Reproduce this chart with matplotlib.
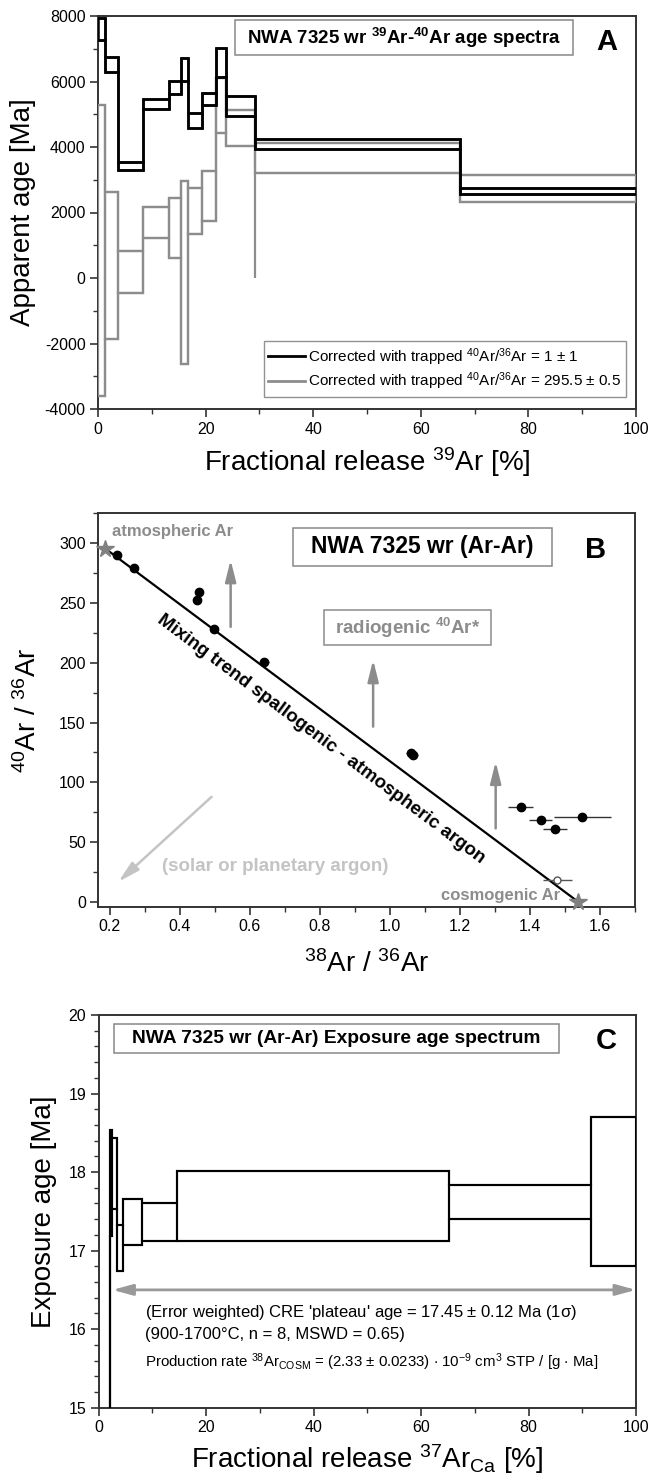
import matplotlib
matplotlib.use('Agg')
import matplotlib.pyplot as plt
import numpy as np
from matplotlib.patches import Rectangle
from matplotlib.lines import Line2D
from matplotlib.ticker import MultipleLocator, FormatStrFormatter

plt.rcParams['font.family'] = ['Liberation Sans', 'DejaVu Sans']
plt.rcParams['mathtext.fontset'] = 'custom'
plt.rcParams['mathtext.rm'] = 'Liberation Sans'
plt.rcParams['mathtext.it'] = 'Liberation Sans:italic'
plt.rcParams['mathtext.bf'] = 'Liberation Sans:bold'
plt.rcParams['mathtext.default'] = 'regular'
plt.rcParams['axes.unicode_minus'] = False

# ---------------- Panel A data: 39Ar-40Ar age spectra ----------------
a_edges = [0, 1.3, 3.7, 8.4, 13.2, 15.4, 16.8, 19.4, 21.9, 23.8, 29.1, 67.2, 100]
a_black_hi = [7930, 6756, 3532, 5465, 6014, 6726, 5028, 5639, 7013, 5566, 4235, 2757]
a_black_lo = [7266, 6298, 3297, 5160, 5608, 6014, 4570, 5282, 6127, 4955, 3929, 2565]
a_gray_hi = [5282, 2616, 824, 2177, 2452, 2961, 2757, 3276, 6115, 5129, 4131, 3145]
a_gray_lo = [-3593, -1872, -467, 1212, 620, -2626, 1334, 1740, 4418, 4030, 3196, 2311]
a_gray_tail_low = 0
a_labels = [r'Corrected with trapped $^{40}$Ar/$^{36}$Ar = 1 $\pm$ 1',
            r'Corrected with trapped $^{40}$Ar/$^{36}$Ar = 295.5 $\pm$ 0.5']

# ---------------- Panel B data: three-isotope plot ----------------
b_x = [0.221, 0.269, 0.448, 0.455, 0.498, 0.641, 1.060, 1.066, 1.373, 1.431, 1.472, 1.550]
b_y = [289.8, 278.9, 252.7, 259.6, 228.4, 201.0, 124.5, 122.5, 79.0, 68.4, 60.6, 70.7]
b_xerr = [0.005, 0.005, 0.005, 0.005, 0.008, 0.013, 0.015, 0.015, 0.035, 0.033, 0.034, 0.082]
b_open_x = [1.478]
b_open_y = [18.7]
b_open_xerr = [0.042]
b_atm = (0.187, 295.5)
b_cosmo = (1.538, 0.0)

# ---------------- Panel C data: exposure age spectrum ----------------
c_edges = [2.15, 2.17, 2.46, 3.33, 4.56, 8.08, 14.6, 65.2, 91.6, 100]
c_lo = [14.0, 17.18, 17.53, 16.74, 17.07, 17.12, 17.12, 17.40, 16.81]
c_hi = [17.18, 18.54, 18.43, 17.33, 17.66, 17.61, 18.01, 17.83, 18.70]
c_plateau_x = (2.55, 100)
c_plateau_y = 16.5

GRAY = '#8c8c8c'
LGRAY = '#c4c4c4'
SPINE = '#333333'

W, H = 651, 1475
fig = plt.figure(figsize=(W / 100, H / 100), dpi=100)


def axes_px(l, r, t, b):
    return fig.add_axes([l / W, 1 - b / H, (r - l) / W, (b - t) / H])


def style(ax):
    for s in ax.spines.values():
        s.set_linewidth(1.4)
        s.set_color(SPINE)
    ax.tick_params(which='major', direction='out', length=6, width=1.2,
                   labelsize=11.5, color=SPINE, pad=3)
    ax.tick_params(which='minor', direction='out', length=3.5, width=1.0, color=SPINE)


def title_box(ax, x0, x1, y0, y1, text, size, color='black', ec='#888888'):
    ax.add_patch(Rectangle((x0, y0), x1 - x0, y1 - y0, transform=ax.transAxes,
                           facecolor='white', edgecolor=ec, lw=1.1, zorder=5))
    ax.text((x0 + x1) / 2, (y0 + y1) / 2, text, transform=ax.transAxes,
            ha='center', va='center', fontsize=size, fontweight='bold',
            color=color, zorder=6)


def spectrum(ax, edges, lo, hi, color, lw):
    edges = np.asarray(edges, dtype=float)
    lo = np.asarray(lo, dtype=float)
    hi = np.asarray(hi, dtype=float)
    # each heating step as a box ...
    ax.bar(edges[:-1], hi - lo, width=np.diff(edges), bottom=lo, align='edge',
           fill=False, edgecolor=color, linewidth=lw, zorder=3)
    # ... joined by step lines of the upper and lower bounds
    ax.stairs(hi, edges, baseline=None, color=color, lw=lw, zorder=3)
    ax.stairs(lo, edges, baseline=None, color=color, lw=lw, zorder=3)


# ======================= Panel A =======================
axA = axes_px(98, 636, 16, 409)
style(axA)
spectrum(axA, a_edges, a_gray_lo, a_gray_hi, GRAY, 1.6)
axA.vlines(a_edges[10], a_gray_tail_low, a_gray_lo[10], color=GRAY, lw=1.6)
spectrum(axA, a_edges, a_black_lo, a_black_hi, 'black', 1.8)
axA.set_xlim(0, 100)
axA.set_ylim(-4000, 8000)
axA.xaxis.set_major_locator(MultipleLocator(20))
axA.xaxis.set_minor_locator(MultipleLocator(10))
axA.yaxis.set_major_locator(MultipleLocator(2000))
axA.yaxis.set_minor_locator(MultipleLocator(1000))
axA.set_xlabel(r'Fractional release $^{39}$Ar [%]', fontsize=20)
axA.set_ylabel('Apparent age [Ma]', fontsize=20)
axA.yaxis.set_label_coords(-0.115, 0.5)
axA.xaxis.set_label_coords(0.5, -0.092)
title_box(axA, 0.2546, 0.8835, 0.9008, 0.9898,
          r'NWA 7325 wr $^{\mathbf{39}}$Ar-$^{\mathbf{40}}$Ar age spectra', 13.5)
axA.text(0.945, 0.935, 'A', transform=axA.transAxes, ha='center', va='center',
         fontsize=21, fontweight='bold')
handles = [Line2D([], [], color='black', lw=2), Line2D([], [], color=GRAY, lw=2)]
leg = axA.legend(handles, a_labels, loc='lower right', bbox_to_anchor=(0.981, 0.031),
                 borderaxespad=0, fontsize=11, frameon=True, fancybox=False,
                 edgecolor='#777777', handlelength=2.4, handletextpad=0.2,
                 labelspacing=0.2, borderpad=0.3)
leg.get_frame().set_linewidth(1.0)
leg.set_zorder(6)

# ======================= Panel B =======================
axB = axes_px(98.3, 635, 513.3, 906.7)
style(axB)
axB.set_xlim(0.167, 1.70)
axB.set_ylim(-4, 325)
axB.plot([b_atm[0], b_cosmo[0]], [b_atm[1], b_cosmo[1]], color='black', lw=1.6, zorder=3)
axB.errorbar(b_x, b_y, xerr=b_xerr, fmt='o', color='black', ecolor='#333333',
             elinewidth=1.0, ms=6, capsize=0, zorder=4)
axB.errorbar(b_open_x, b_open_y, xerr=b_open_xerr, fmt='o', mfc='white', mec='#555555',
             ecolor='#555555', elinewidth=1.0, ms=5, capsize=0, zorder=4)
axB.plot([b_atm[0], b_cosmo[0]], [b_atm[1], b_cosmo[1]], ls='none', marker='*',
         ms=13, color='#808080', zorder=5, clip_on=False)
axB.xaxis.set_major_locator(MultipleLocator(0.2))
axB.xaxis.set_minor_locator(MultipleLocator(0.1))
axB.yaxis.set_major_locator(MultipleLocator(50))
axB.yaxis.set_minor_locator(MultipleLocator(25))
axB.xaxis.set_major_formatter(FormatStrFormatter('%.1f'))
axB.set_xlabel(r'$^{38}$Ar / $^{36}$Ar', fontsize=20)
axB.set_ylabel(r'$^{40}$Ar / $^{36}$Ar', fontsize=20)
axB.yaxis.set_label_coords(-0.105, 0.5)
axB.xaxis.set_label_coords(0.5, -0.11)
title_box(axB, 0.3636, 0.845, 0.866, 0.963, 'NWA 7325 wr (Ar-Ar)', 16.5)
axB.text(0.927, 0.907, 'B', transform=axB.transAxes, ha='center', va='center',
         fontsize=21, fontweight='bold')
title_box(axB, 0.4205, 0.7317, 0.665, 0.754, r'radiogenic $^{\mathbf{40}}$Ar*', 13.5,
          color=GRAY, ec=GRAY)
axB.text(0.205, 310, 'atmospheric Ar', ha='left', va='center', fontsize=12,
         fontweight='bold', color=GRAY)
axB.text(1.486, 5.5, 'cosmogenic Ar', ha='right', va='center', fontsize=12,
         fontweight='bold', color=GRAY)
axB.text(0.671, 29.9, '(solar or planetary argon)', ha='center', va='center',
         fontsize=13.5, fontweight='bold', color=LGRAY)
p1 = axB.transData.transform(b_atm)
p2 = axB.transData.transform(b_cosmo)
ang = np.degrees(np.arctan2(p2[1] - p1[1], p2[0] - p1[0]))
axB.text(0.802, 136, 'Mixing trend spallogenic - atmospheric argon', ha='center',
         va='center', rotation=ang, rotation_mode='anchor', fontsize=13.5,
         fontweight='bold')
up_arrows = [(0.545, 230, 286), (0.952, 146.6, 202.4), (1.302, 61.5, 117.3)]
for ux, y0, y1 in up_arrows:
    axB.annotate('', xy=(ux, y1), xytext=(ux, y0),
                 arrowprops=dict(arrowstyle='-|>,head_length=1.0,head_width=0.25',
                                 color=GRAY, lw=1.8, mutation_scale=13,
                                 shrinkA=0, shrinkB=0))
axB.annotate('', xy=(0.224, 16.75), xytext=(0.4906, 87.9),
             arrowprops=dict(arrowstyle='-|>,head_length=1.0,head_width=0.25',
                             color=LGRAY, lw=1.8, mutation_scale=13,
                             shrinkA=0, shrinkB=0))

# ======================= Panel C =======================
axC = axes_px(98.75, 636, 1015, 1407.7)
style(axC)
spectrum(axC, c_edges, c_lo, c_hi, 'black', 1.5)
axC.set_xlim(0, 100)
axC.set_ylim(15, 20)
axC.xaxis.set_major_locator(MultipleLocator(20))
axC.xaxis.set_minor_locator(MultipleLocator(10))
axC.yaxis.set_major_locator(MultipleLocator(1))
axC.yaxis.set_minor_locator(MultipleLocator(0.2))
axC.set_xlabel(r'Fractional release $^{37}$Ar$_{Ca}$ [%]', fontsize=20)
axC.set_ylabel('Exposure age [Ma]', fontsize=20)
axC.yaxis.set_label_coords(-0.078, 0.5)
axC.xaxis.set_label_coords(0.5, -0.088)
title_box(axC, 0.0284, 0.857, 0.9025, 0.977,
          'NWA 7325 wr (Ar-Ar) Exposure age spectrum', 13.8)
axC.text(0.944, 0.934, 'C', transform=axC.transAxes, ha='center', va='center',
         fontsize=21, fontweight='bold')
axC.annotate('', xy=(c_plateau_x[1], c_plateau_y), xytext=(c_plateau_x[0], c_plateau_y),
             arrowprops=dict(arrowstyle='<|-|>,head_length=1.1,head_width=0.3',
                             color='#999999', lw=2.0, mutation_scale=11,
                             shrinkA=0, shrinkB=0))
axC.text(8.58, 16.155, "(Error weighted) CRE 'plateau' age = 17.45 $\\pm$ 0.12 Ma (1σ)",
         ha='left', va='baseline', fontsize=12)
axC.text(8.58, 15.877, '(900-1700°C, n = 8, MSWD = 0.65)', ha='left', va='baseline',
         fontsize=12)
axC.text(8.58, 15.52, r'Production rate $^{38}$Ar$_{COSM}$ = (2.33 $\pm$ 0.0233) $\cdot$ 10$^{-9}$ cm$^{3}$ STP / [g $\cdot$ Ma]',
         ha='left', va='baseline', fontsize=10.8)

fig.savefig('out.png', dpi=100)
